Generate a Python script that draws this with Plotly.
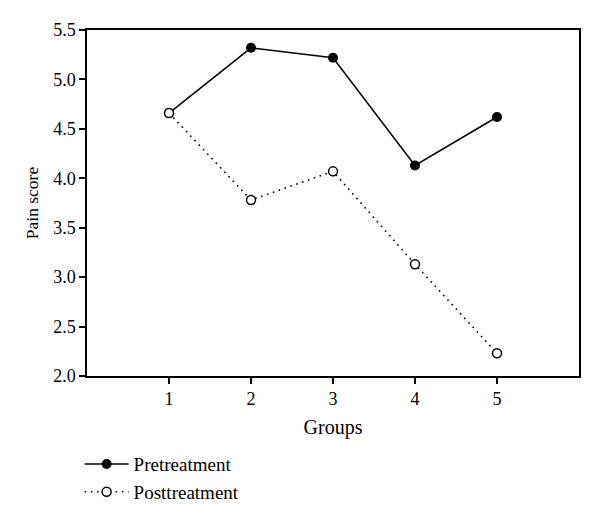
import plotly.graph_objects as go

groups = [1, 2, 3, 4, 5]
pretreatment = [4.66, 5.32, 5.22, 4.13, 4.62]
posttreatment = [4.66, 3.78, 4.07, 3.13, 2.23]
y_ticks = [2.0, 2.5, 3.0, 3.5, 4.0, 4.5, 5.0, 5.5]

FONT = "Liberation Serif"

fig = go.Figure()
fig.add_trace(go.Scatter(
    x=groups, y=pretreatment, name="Pretreatment", mode="lines+markers",
    line=dict(color="black", width=1.5),
    marker=dict(symbol="circle", size=10, color="black"),
))
fig.add_trace(go.Scatter(
    x=groups, y=posttreatment, name="Posttreatment", mode="lines+markers",
    line=dict(color="black", width=1.6, dash="1.6px,4.6px"),
    marker=dict(symbol="circle", size=9, color="white", line=dict(color="black", width=1.5)),
))

fig.update_layout(
    width=592, height=516,
    margin=dict(l=79, r=21, t=22, b=148),
    paper_bgcolor="white", plot_bgcolor="white",
    font=dict(family=FONT, size=18, color="black"),
    xaxis=dict(
        range=[0, 6], tickvals=groups, ticktext=[str(g) for g in groups],
        ticks="outside", ticklen=6, tickwidth=1.5, tickcolor="black",
        showline=True, linecolor="black", linewidth=1.5, mirror=True,
        showgrid=False, zeroline=False, tickfont=dict(size=18),
        title=dict(text="Groups", font=dict(size=20), standoff=12),
    ),
    yaxis=dict(
        range=[2.0, 5.5], tickvals=y_ticks, ticktext=[f"{v:.1f}" for v in y_ticks],
        ticks="outside", ticklen=6, tickwidth=1.5, tickcolor="black",
        showline=True, linecolor="black", linewidth=1.5, mirror=True,
        showgrid=False, zeroline=False, tickfont=dict(size=18),
        title=dict(text="Pain score", font=dict(size=17.5), standoff=10),
    ),
    legend=dict(
        x=-0.015, y=-0.2, xanchor="left", yanchor="top",
        bgcolor="rgba(0,0,0,0)", font=dict(size=19), tracegroupgap=0,
        itemwidth=44,
    ),
    showlegend=True,
)

fig.write_html("out.html")
